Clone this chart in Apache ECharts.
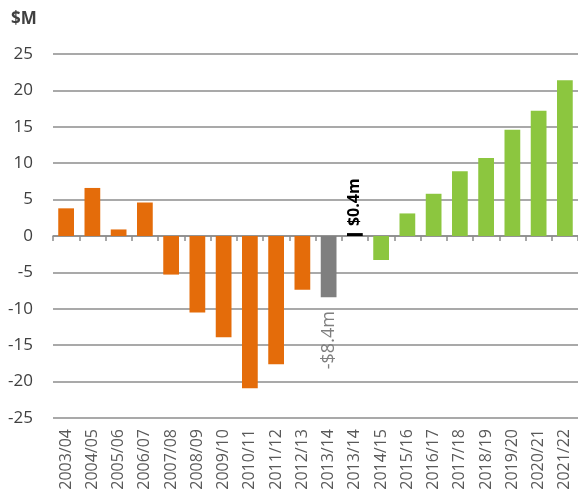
<!DOCTYPE html>
<html>
<head>
<meta charset="utf-8">
<script src="https://cdn.jsdelivr.net/npm/echarts@6/dist/echarts.min.js"></script>
<style>html,body{margin:0;padding:0;background:#fff}#c{width:578px;height:495px}</style>
</head>
<body>
<div id="c"></div>
<script>
const categories = ['2003/04','2004/05','2005/06','2006/07','2007/08','2008/09','2009/10','2010/11','2011/12','2012/13','2013/14','2013/14','2014/15','2015/16','2016/17','2017/18','2018/19','2019/20','2020/21','2021/22'];
const historicalValues = [3.8, 6.6, 0.9, 4.6, -5.3, -10.5, -13.9, -20.9, -17.6, -7.4];
const restatedValue = [-8.4];
const adjustedValue = [0.4];
const forecastValues = [-3.3, 3.1, 5.8, 8.9, 10.7, 14.6, 17.2, 21.4];
const yTicks = { min: -25, max: 25, interval: 5 };

function pad(vals, start) {
  const out = categories.map(() => '-');
  vals.forEach((v, i) => { out[start + i] = v; });
  return out;
}
const nHist = historicalValues.length;

const chart = echarts.init(document.getElementById('c'), null, { renderer: 'canvas' });
const font = 'Open Sans';
chart.setOption({
  animation: false,
  title: { text: '$M', left: 6, top: 6, textStyle: { fontFamily: font, fontSize: 17, fontWeight: 'bold', color: '#404040' } },
  grid: { left: 53, right: 0, top: 54, bottom: 77, containLabel: false },
  xAxis: [
    {
      type: 'category', data: categories, position: 'bottom',
      axisLine: { show: false, onZero: false },
      axisTick: { show: false },
      axisLabel: { interval: 0, rotate: 90, margin: 11, fontFamily: font, fontSize: 16, color: '#595959' }
    },
    {
      type: 'category', data: categories, position: 'bottom',
      axisLine: { show: true, onZero: true, lineStyle: { color: '#8c8c8c', width: 1.5 } },
      axisTick: { show: true, interval: 0, length: 5, lineStyle: { color: '#8c8c8c', width: 1.5 } },
      axisLabel: { show: false }, splitLine: { show: false }
    }
  ],
  yAxis: {
    type: 'value', min: yTicks.min, max: yTicks.max, interval: yTicks.interval,
    axisLine: { show: false }, axisTick: { show: false },
    axisLabel: { margin: 20, fontFamily: font, fontSize: 17, color: '#404040' },
    splitLine: { show: true, lineStyle: { color: '#8c8c8c', width: 1.5 } }
  },
  series: [
    { type: 'bar', stack: 's', barWidth: '60%', data: pad(historicalValues, 0), itemStyle: { color: '#E46C0A' } },
    { type: 'bar', stack: 's', data: pad(restatedValue, nHist), itemStyle: { color: '#7F7F7F' },
      label: { show: true, position: 'bottom', distance: 14, rotate: 90, align: 'right', verticalAlign: 'middle',
        formatter: p => '-$' + Math.abs(p.value).toFixed(1) + 'm', fontFamily: font, fontSize: 18, color: '#7F7F7F' } },
    { type: 'bar', stack: 's', data: pad(adjustedValue, nHist + 1), itemStyle: { color: '#000000' },
      label: { show: true, position: 'top', distance: 7, rotate: 90, align: 'left', verticalAlign: 'middle',
        formatter: p => '$' + p.value.toFixed(1) + 'm', fontFamily: font, fontSize: 16, fontWeight: 'bold', color: '#000000' } },
    { type: 'bar', stack: 's', data: pad(forecastValues, nHist + 2), itemStyle: { color: '#8CC63F' } }
  ]
});
</script>
</body>
</html>
